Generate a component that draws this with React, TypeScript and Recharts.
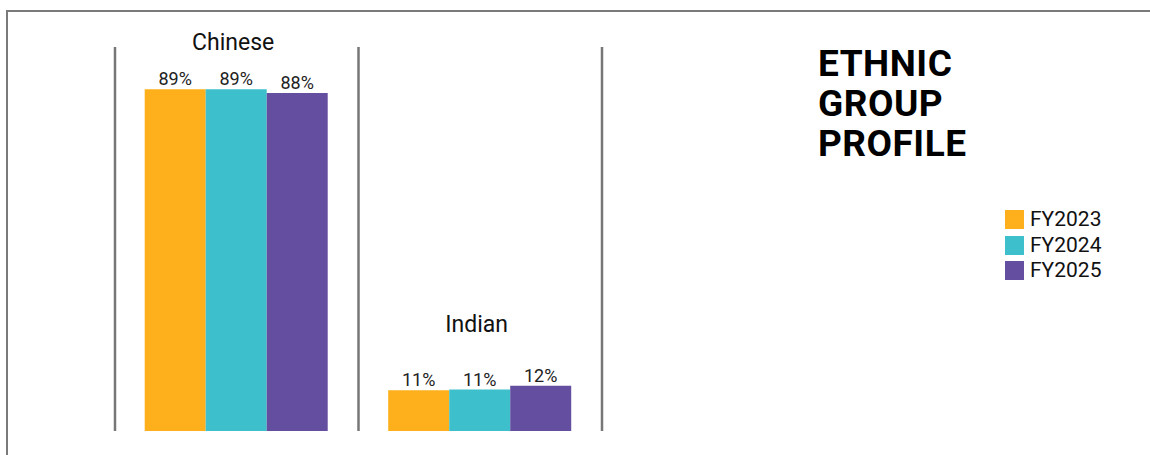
import React from 'react';
import { BarChart, Bar, XAxis, YAxis, CartesianGrid, Legend, LabelList } from 'recharts';

// Ethnic group share per financial year (%)
const categories = ['Chinese', 'Indian'];
const fy2023 = [89, 10.6];
const fy2024 = [89, 10.8];
const fy2025 = [88, 11.8];
const seriesNames = ['FY2023', 'FY2024', 'FY2025'];

const COLORS = ['#FDB01B', '#3DC0CB', '#644E9F'];
const FONT = 'Roboto, "Noto Sans", sans-serif';

const data = categories.map((name, i) => ({
  name,
  FY2023: fy2023[i],
  FY2024: fy2024[i],
  FY2025: fy2025[i],
}));

// how far above the middle bar each category name sits
const nameLift = [39, 58];

const pctLabel = (v: any) => `${Math.round(Number(v))}%`;

const CategoryName = (props: any) => {
  const { x, y, width, index, value } = props;
  return (
    <text
      x={Number(x) + Number(width) / 2 - 3}
      y={Number(y) - nameLift[index]}
      textAnchor="middle"
      fontSize={23}
      fontFamily={FONT}
      fill="#111"
    >
      {value}
    </text>
  );
};

const LegendBox = () => (
  <div style={{ fontFamily: FONT }}>
    {seriesNames.map((s, i) => (
      <div key={s} style={{ display: 'flex', alignItems: 'center', height: 25.5 }}>
        <span style={{ width: 19, height: 19, background: COLORS[i], display: 'inline-block', marginRight: 6 }} />
        <span style={{ fontSize: 21, color: '#111', lineHeight: '19px' }}>{s}</span>
      </div>
    ))}
  </div>
);

export default function App() {
  return (
    <div style={{ position: 'absolute', left: 0, top: 0, width: 1150, height: 455, overflow: 'hidden', background: '#fff' }}>
      <div
        style={{
          position: 'absolute',
          left: 6,
          top: 10,
          right: -10,
          bottom: -10,
          border: '2.5px solid #7a7a7a',
        }}
      />
      <div
        style={{
          position: 'absolute',
          left: 818,
          top: 44,
          fontFamily: FONT,
          fontWeight: 700,
          fontSize: 37,
          lineHeight: '40px',
          letterSpacing: 0.5,
          color: '#000',
        }}
      >
        ETHNIC<br />GROUP<br />PROFILE
      </div>
      <BarChart
        width={1150}
        height={455}
        data={data}
        margin={{ top: 47, right: 428, bottom: 24, left: 115 }}
        barCategoryGap="12.2%"
        barGap={0}
        style={{ position: 'absolute', left: 0, top: 0 }}
      >
        <CartesianGrid
          horizontal={false}
          stroke="#777"
          strokeWidth={2.5}
          verticalCoordinatesGenerator={({ offset }: any) => [
            offset.left,
            offset.left + offset.width / 2,
            offset.left + offset.width,
          ]}
        />
        <XAxis dataKey="name" hide />
        <YAxis hide domain={[0, 100]} />
        <Legend
          layout="vertical"
          align="right"
          verticalAlign="middle"
          width={120}
          content={<LegendBox />}
          wrapperStyle={{ position: 'absolute', left: 1005, top: 207, width: 120, right: 'auto', bottom: 'auto' }}
        />
        {seriesNames.map((s, i) => (
          <Bar key={s} dataKey={s} fill={COLORS[i]} isAnimationActive={false}>
            <LabelList
              dataKey={s}
              position="top"
              offset={4}
              formatter={pctLabel}
              fontSize={18}
              fontFamily={FONT}
              fill="#222"
            />
            {s === 'FY2024' && <LabelList dataKey="name" content={<CategoryName />} />}
          </Bar>
        ))}
      </BarChart>
    </div>
  );
}
